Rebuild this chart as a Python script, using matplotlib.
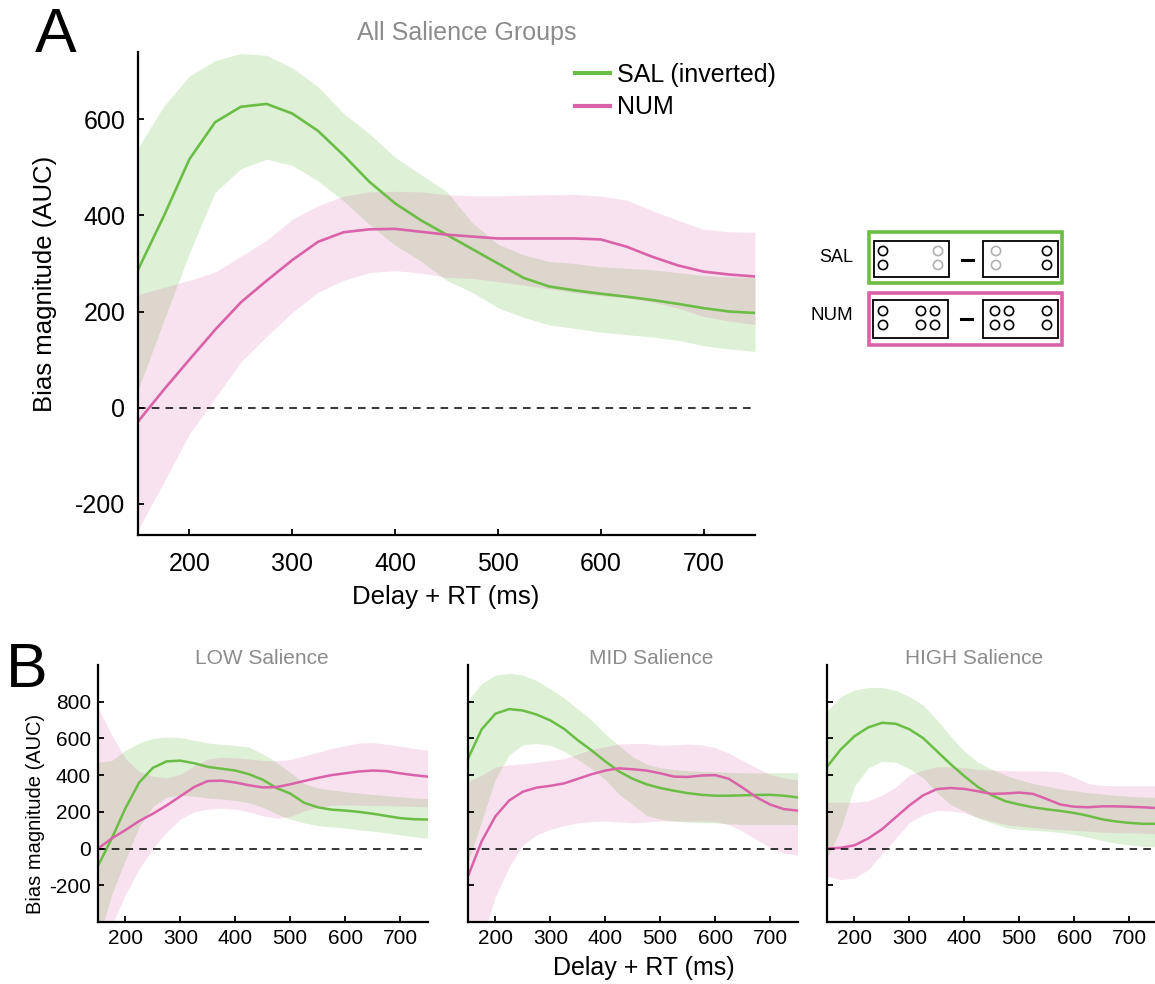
import numpy as np
import matplotlib
matplotlib.use('Agg')
import matplotlib.pyplot as plt
from matplotlib.patches import Rectangle, Circle

plt.rcParams['font.family'] = ['Liberation Sans', 'DejaVu Sans']
plt.rcParams['axes.unicode_minus'] = False

# time axis (Delay + RT, ms)
delay = np.arange(150, 751, 25)

# ---- panel A: all salience groups ----
sal_all = [287, 398, 517, 594, 626, 632, 612, 576, 525, 470, 425, 390, 360,
           330, 300, 270, 252, 244, 237, 231, 224, 216, 207, 200, 197]
sal_all_hi = [541, 627, 690, 722, 737, 733, 707, 668, 612, 570, 521, 485, 450,
              385, 340, 318, 304, 300, 293, 290, 287, 281, 275, 272, 271]
sal_all_lo = [37, 180, 322, 448, 497, 517, 504, 472, 430, 381, 338, 305, 265,
              240, 208, 188, 172, 165, 157, 152, 147, 140, 129, 122, 117]
num_all = [-29, 37, 100, 162, 219, 264, 307, 345, 365, 371, 372, 366, 360,
           356, 352, 352, 352, 352, 350, 335, 314, 296, 283, 277, 273]
num_all_hi = [235, 250, 265, 282, 315, 348, 392, 420, 440, 449, 450, 449, 443,
              441, 441, 442, 443, 444, 440, 432, 410, 390, 371, 366, 365]
num_all_lo = [-254, -156, -55, 20, 95, 148, 198, 240, 265, 281, 285, 280, 271,
              269, 262, 255, 247, 239, 233, 228, 220, 207, 190, 180, 173]

# ---- panel B: LOW salience ----
sal_low = [-95, 55, 220, 360, 440, 475, 479, 465, 445, 435, 425, 405, 375,
           330, 300, 250, 225, 212, 207, 200, 190, 178, 166, 160, 158]
sal_low_hi = [470, 480, 535, 575, 600, 608, 605, 590, 575, 568, 563, 552, 515,
              470, 415, 355, 330, 320, 310, 302, 295, 288, 282, 276, 272]
sal_low_lo = [-500, -250, -60, 120, 230, 280, 290, 285, 275, 270, 262, 250, 225,
              190, 160, 140, 125, 118, 112, 102, 95, 85, 75, 65, 56]
num_low = [0, 55, 101, 150, 190, 235, 285, 335, 368, 370, 360, 345, 333,
           335, 350, 368, 385, 400, 410, 420, 425, 422, 410, 400, 392]
num_low_hi = [767, 620, 490, 420, 395, 385, 405, 450, 488, 497, 495, 488, 480,
              478, 485, 505, 525, 545, 560, 575, 578, 568, 558, 545, 536]
num_low_lo = [-700, -420, -250, -110, 0, 90, 160, 200, 215, 220, 215, 200, 178,
              165, 175, 205, 225, 235, 238, 236, 235, 234, 232, 230, 227]

# ---- panel B: MID salience ----
sal_mid = [490, 650, 735, 760, 752, 730, 698, 652, 590, 535, 475, 420, 380,
           350, 330, 315, 302, 293, 288, 288, 290, 292, 293, 288, 279]
sal_mid_hi = [806, 900, 945, 955, 945, 915, 870, 820, 760, 700, 625, 560, 500,
              460, 440, 430, 425, 420, 418, 415, 413, 412, 413, 414, 414]
sal_mid_lo = [-75, 150, 380, 510, 565, 572, 563, 530, 485, 435, 375, 295, 240,
              180, 160, 150, 145, 142, 140, 135, 131, 131, 131, 131, 131]
num_mid = [-150, 40, 176, 262, 310, 332, 342, 355, 380, 405, 425, 437, 432,
           425, 410, 392, 390, 398, 400, 380, 332, 280, 240, 215, 207]
num_mid_hi = [365, 400, 445, 455, 462, 470, 480, 490, 515, 540, 555, 570, 572,
              572, 563, 565, 570, 565, 550, 520, 480, 440, 405, 385, 374]
num_mid_lo = [-650, -500, -260, -100, 20, 75, 105, 125, 140, 148, 150, 145, 140,
              145, 150, 150, 150, 150, 148, 130, 95, 50, 5, -25, -36]

# ---- panel B: HIGH salience ----
sal_high = [445, 540, 612, 660, 685, 680, 650, 602, 531, 460, 395, 335, 290,
            258, 240, 225, 214, 205, 194, 179, 160, 148, 140, 135, 135]
sal_high_hi = [747, 828, 864, 877, 878, 862, 828, 782, 702, 612, 530, 470, 432,
               400, 375, 355, 340, 325, 315, 305, 298, 290, 285, 280, 279]
sal_high_lo = [-54, 108, 340, 440, 475, 470, 435, 385, 306, 240, 205, 165, 140,
               115, 105, 100, 95, 88, 78, 62, 45, 30, 20, 12, 9]
num_high = [0, 4, 18, 55, 105, 170, 235, 290, 324, 330, 325, 312, 298,
            300, 305, 298, 270, 240, 228, 225, 230, 230, 228, 225, 221]
num_high_hi = [252, 252, 252, 260, 290, 335, 400, 428, 445, 445, 440, 432, 428,
               425, 423, 423, 422, 418, 390, 355, 345, 342, 342, 342, 342]
num_high_lo = [-150, -170, -160, -115, -30, 55, 140, 185, 207, 205, 195, 170, 150,
               130, 122, 115, 108, 103, 100, 95, 90, 86, 86, 84, 81]

green = '#6BBD45'
pink = '#D962A8'
gray = '#8c8c8c'


def draw_panel(ax, sal, sal_lo, sal_hi, num, num_lo, num_hi, lw=1.9):
    ax.fill_between(delay, sal_lo, sal_hi, color=green, alpha=0.22, lw=0)
    ax.plot(delay, sal, color=green, lw=lw, label='SAL (inverted)')
    ax.fill_between(delay, num_lo, num_hi, color=pink, alpha=0.18, lw=0)
    ax.plot(delay, num, color=pink, lw=lw, label='NUM')
    ax.axhline(0, color='black', lw=1.1, ls=(0, (5, 4)))
    ax.set_xlim(150, 750)
    ax.set_xticks([200, 300, 400, 500, 600, 700])
    for s in ['top', 'right']:
        ax.spines[s].set_visible(False)
    for s in ['left', 'bottom']:
        ax.spines[s].set_linewidth(1.6)
    ax.tick_params(direction='in', length=4, width=1.3)


fig = plt.figure(figsize=(11.55, 9.84), dpi=100)
W, H = 1155.0, 984.0


def px_axes(l, t, r, b):
    return fig.add_axes([l / W, 1 - b / H, (r - l) / W, (b - t) / H])


def fig_text(x, y, s, **kw):
    kw.setdefault('ha', 'center')
    kw.setdefault('va', 'center')
    return fig.text(x / W, 1 - y / H, s, **kw)


# panel A
axA = px_axes(138, 52, 755, 535)
draw_panel(axA, sal_all, sal_all_lo, sal_all_hi, num_all, num_all_lo, num_all_hi)
axA.set_ylim(-265, 740)
axA.set_yticks([-200, 0, 200, 400, 600])
axA.tick_params(labelsize=18)
axA.tick_params(axis='x', pad=12)
axA.tick_params(axis='y', pad=9)
fig_text(446, 597, 'Delay + RT (ms)', fontsize=18.5)
fig_text(45, 284, 'Bias magnitude (AUC)', fontsize=18.5, rotation=90)
leg = axA.legend(loc='upper left', bbox_to_anchor=(575 / W, 1 - 63 / H),
                 bbox_transform=fig.transFigure, frameon=False, fontsize=18,
                 handlelength=1.38, handletextpad=0.3, labelspacing=0.33,
                 borderaxespad=0, borderpad=0)
for h in leg.get_lines():
    h.set_linewidth(3)
fig_text(467, 33, 'All Salience Groups', color=gray, fontsize=18)
fig_text(35, 52, 'A', fontsize=45, ha='left', va='baseline')

# panel B
groups = [
    ('LOW Salience', 98, sal_low, sal_low_lo, sal_low_hi, num_low, num_low_lo, num_low_hi, 262),
    ('MID Salience', 468, sal_mid, sal_mid_lo, sal_mid_hi, num_mid, num_mid_lo, num_mid_hi, 651),
    ('HIGH Salience', 827, sal_high, sal_high_lo, sal_high_hi, num_high, num_high_lo, num_high_hi, 974),
]
for i, (title, left, s, slo, shi, n, nlo, nhi, tx) in enumerate(groups):
    ax = px_axes(left, 665, left + 329.5, 922)
    draw_panel(ax, s, slo, shi, n, nlo, nhi, lw=1.8)
    ax.set_ylim(-400, 1000)
    ax.set_yticks([-200, 0, 200, 400, 600, 800])
    ax.tick_params(labelsize=15, pad=5)
    if i > 0:
        ax.set_yticklabels([])
    fig_text(tx, 658, title, color=gray, fontsize=15)

fig_text(36, 814, 'Bias magnitude (AUC)', fontsize=14.5, rotation=90)
fig_text(644, 968, 'Delay + RT (ms)', fontsize=18)
fig_text(6, 687, 'B', fontsize=45, ha='left', va='baseline')

# schematic of the SAL / NUM contrasts (pixel coordinates)
sk = fig.add_axes([0, 0, 1, 1], zorder=5)
sk.set_xlim(0, W)
sk.set_ylim(H, 0)
sk.axis('off')
sk.patch.set_alpha(0)


def dots(cx_list, cy_list, col):
    for cx in cx_list:
        for cy in cy_list:
            sk.add_patch(Circle((cx, cy), 4.6, fill=False, ec=col, lw=1.2))


# SAL row
sk.add_patch(Rectangle((869, 232), 193, 51, fill=False, ec=green, lw=2.6))
sk.add_patch(Rectangle((874, 241), 75, 36, fill=False, ec='black', lw=1.3))
sk.add_patch(Rectangle((983, 241), 75, 36, fill=False, ec='black', lw=1.3))
dots([883], [251, 265], 'black')
dots([938], [251, 265], '#b0b0b0')
dots([996], [251, 265], '#b0b0b0')
dots([1047], [251, 265], 'black')
sk.plot([962, 973], [260, 260], color='black', lw=2.2)
sk.text(853, 258, 'SAL', fontsize=13, ha='right', va='center')

# NUM row
sk.add_patch(Rectangle((869, 293), 193, 52, fill=False, ec=pink, lw=2.6))
sk.add_patch(Rectangle((873, 300), 75, 38, fill=False, ec='black', lw=1.3))
sk.add_patch(Rectangle((983, 300), 75, 38, fill=False, ec='black', lw=1.3))
dots([883, 921, 935], [311, 325], 'black')
dots([995, 1009, 1047], [311, 325], 'black')
sk.plot([961, 972], [319, 319], color='black', lw=2.2)
sk.text(853, 315, 'NUM', fontsize=13.5, ha='right', va='center')

fig.savefig('out.png', dpi=100)
